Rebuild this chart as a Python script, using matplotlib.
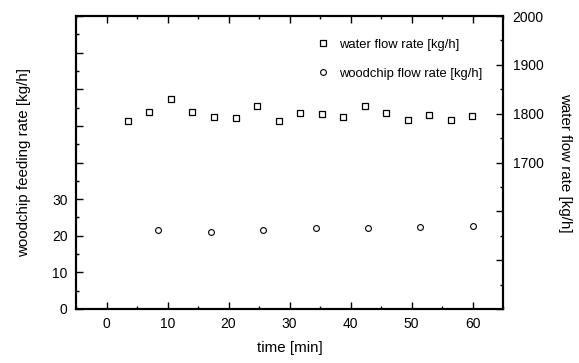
import matplotlib

matplotlib.use("Agg")
import matplotlib.pyplot as plt
from matplotlib.ticker import MultipleLocator, FixedLocator

plt.rcParams["font.family"] = ["Liberation Sans", "DejaVu Sans"]

# water flow rate (right axis)
WATER_T = [3.5, 7.0, 10.5, 14.0, 17.6, 21.2, 24.7, 28.2, 31.7, 35.3,
           38.8, 42.3, 45.8, 49.4, 52.9, 56.5, 60.0]
WATER_Q = [1785, 1803, 1830, 1803, 1793, 1792, 1815, 1785, 1802, 1800,
           1794, 1816, 1802, 1788, 1797, 1787, 1796]

# woodchip flow rate (left axis)
CHIP_T = [8.5, 17.1, 25.7, 34.3, 42.9, 51.4, 60.0]
CHIP_Q = [21.5, 21.0, 21.6, 22.0, 22.0, 22.5, 22.7]

LEFT_TICKS = [0, 10, 20, 30, 40, 50, 60, 70, 80]
LEFT_LABELS = ["0", "10", "20", "30", "", "", "", "", ""]
RIGHT_TICKS = [1400, 1500, 1600, 1700, 1800, 1900, 2000]
RIGHT_LABELS = ["", "", "", "1700", "1800", "1900", "2000"]


def main():
    fig = plt.figure(figsize=(5.79, 3.63), dpi=100)
    ax = fig.add_axes([76 / 579, 1 - 309 / 363, (503 - 76) / 579, (309 - 16) / 363])
    ax2 = ax.twinx()

    ax.plot(CHIP_T, CHIP_Q, "o", ms=4.2, mfc="white", mec="black", mew=0.8,
            label="woodchip flow rate [kg/h]")
    ax2.plot(WATER_T, WATER_Q, "s", ms=5, mfc="white", mec="black", mew=0.9,
             label="water flow rate [kg/h]")

    ax.set_xlim(-5, 65)
    ax.set_ylim(0, 80)
    ax2.set_ylim(1400, 2000)

    ax.xaxis.set_major_locator(MultipleLocator(10))
    ax.xaxis.set_minor_locator(MultipleLocator(5))
    ax.yaxis.set_major_locator(FixedLocator(LEFT_TICKS))
    ax.set_yticklabels(LEFT_LABELS)
    ax.yaxis.set_minor_locator(MultipleLocator(5))
    ax2.yaxis.set_major_locator(FixedLocator(RIGHT_TICKS))
    ax2.set_yticklabels(RIGHT_LABELS)
    ax2.yaxis.set_minor_locator(MultipleLocator(50))

    ax.tick_params(axis="x", which="both", direction="in", top=True, labelsize=10, pad=6)
    ax.tick_params(axis="y", which="both", direction="in", right=False, labelsize=10, pad=6)
    ax.tick_params(which="major", length=5, width=1)
    ax.tick_params(which="minor", length=2.5, width=1)
    ax2.tick_params(axis="y", which="both", direction="in", labelsize=10, pad=7)
    ax2.tick_params(which="major", length=5, width=1)
    ax2.tick_params(which="minor", length=2.5, width=1)

    for a in (ax, ax2):
        for s in a.spines.values():
            s.set_linewidth(1.5)

    ax.set_xlabel("time [min]", fontsize=10.9, labelpad=7)
    ax.set_ylabel("woodchip feeding rate [kg/h]", fontsize=10.9, labelpad=15)
    ax2.set_ylabel("water flow rate [kg/h]", fontsize=10.9, rotation=270, labelpad=20)

    h2, l2 = ax2.get_legend_handles_labels()
    h1, l1 = ax.get_legend_handles_labels()
    ax2.legend(h2 + h1, l2 + l1, loc="upper left", frameon=False, fontsize=9.4,
               handlelength=1.0, handletextpad=0.72, labelspacing=1.28,
               borderaxespad=0, bbox_to_anchor=(0.5518, 0.940))

    fig.savefig("out.png", dpi=100)


if __name__ == "__main__":
    main()
